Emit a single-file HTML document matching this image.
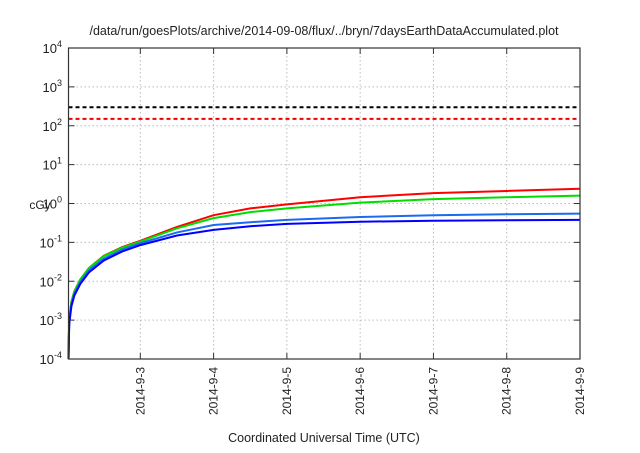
<!DOCTYPE html>
<html><head><meta charset="utf-8"><style>
body{margin:0;background:#fff}
svg{font-family:"Liberation Sans",sans-serif}
</style></head><body>
<svg id="chart" width="640" height="448" viewBox="0 0 640 448" xmlns="http://www.w3.org/2000/svg">
<text x="324" y="35" font-size="12.5" text-anchor="middle" fill="#222">/data/run/goesPlots/archive/2014-09-08/flux/../bryn/7daysEarthDataAccumulated.plot</text>
<text x="40" y="209" font-size="12" text-anchor="middle" fill="#222">cGy</text>
<text x="324" y="442" font-size="12.5" text-anchor="middle" fill="#222">Coordinated Universal Time (UTC)</text>
<g id="grid"></g>
<g id="series"></g>
<g id="axes"></g>
</svg>
<script>
const times=[2.02,2.025,2.03,2.06,2.1,2.18,2.3,2.5,2.75,3,3.5,4,4.5,5,6,7,8,9];
const redVals=[1e-4,4e-4,1e-3,3e-3,5.5e-3,1.1e-2,2.2e-2,4.5e-2,0.075,0.11,0.25,0.5,0.75,0.95,1.45,1.85,2.1,2.4];
const greenVals=[1e-4,4e-4,1e-3,3e-3,5.5e-3,1.1e-2,2.2e-2,4.4e-2,0.073,0.105,0.23,0.42,0.6,0.75,1.05,1.3,1.45,1.6];
const lightBlueVals=[1e-4,3.5e-4,9e-4,2.6e-3,4.8e-3,9.5e-3,1.9e-2,3.8e-2,0.065,0.095,0.18,0.28,0.33,0.38,0.45,0.5,0.53,0.55];
const blueVals=[1e-4,3e-4,8e-4,2.3e-3,4.3e-3,8.5e-3,1.7e-2,3.4e-2,0.058,0.085,0.15,0.21,0.26,0.3,0.34,0.36,0.37,0.38];
const thresholdVals=[300,150];
const xTickDays=[3,4,5,6,7,8,9];
const xTickLabels=["2014-9-3","2014-9-4","2014-9-5","2014-9-6","2014-9-7","2014-9-8","2014-9-9"];
const yTickExps=[-4,-3,-2,-1,0,1,2,3,4];

const L=68.5,R=580,T=48,B=359,X0=2.02,X1=9;
const NS="http://www.w3.org/2000/svg";
function xs(d){return L+(d-X0)/(X1-X0)*(R-L);}
function ys(v){return B-(Math.log10(v)+4)/8*(B-T);}
function mk(tag,attrs,parent){const e=document.createElementNS(NS,tag);for(const k in attrs)e.setAttribute(k,attrs[k]);parent.appendChild(e);return e;}
const grid=document.getElementById('grid'),axes=document.getElementById('axes'),ser=document.getElementById('series');

yTickExps.forEach(e=>{
  const y=ys(Math.pow(10,e));
  if(e>-4&&e<4){const g=mk('line',{x1:L,x2:R,y1:y,y2:y,stroke:'#bbb','stroke-dasharray':'1.5,2.5','stroke-width':1},grid);
  }
  mk('line',{x1:L,x2:L+6,y1:y,y2:y,stroke:'#333'},axes);
  mk('line',{x1:R,x2:R-6,y1:y,y2:y,stroke:'#333'},axes);
  const t=mk('text',{x:62,y:y+5,'font-size':13,'text-anchor':'end',fill:'#222'},axes);
  
  t.textContent='10';
  const s=mk('tspan',{dy:-6,'font-size':9},t);s.textContent=String(e);
});
xTickDays.forEach((d,i)=>{
  const x=xs(d);
  if(d<9){const g=mk('line',{x1:x,x2:x,y1:T,y2:B,stroke:'#bbb','stroke-dasharray':'1.5,2.5','stroke-width':1},grid);
  }
  mk('line',{x1:x,x2:x,y1:B,y2:B-6,stroke:'#333'},axes);
  mk('line',{x1:x,x2:x,y1:T,y2:T+6,stroke:'#333'},axes);
  const t=mk('text',{x:0,y:0,'font-size':12,'text-anchor':'end',fill:'#222',transform:`translate(${x+4},${B+8}) rotate(-90)`},axes);
  
  t.textContent=xTickLabels[i];
});
const frame=mk('rect',{x:L,y:T,width:R-L,height:B-T,fill:'none',stroke:'#333','stroke-width':1.2},axes);


const thrColors=['#000','#e00'];
thresholdVals.forEach((v,i)=>{
  const l=mk('line',{x1:L,x2:R,y1:ys(v),y2:ys(v),stroke:thrColors[i],'stroke-width':2,'stroke-dasharray':'4,3'},ser);
  
});
[[redVals,'#f00','series-red'],[greenVals,'#0d0','series-green'],[lightBlueVals,'#1a6bf0','series-light-blue'],[blueVals,'#00f','series-blue']].forEach(([vals,c,n])=>{
  const p=mk('polyline',{points:times.map((t,i)=>xs(t)+','+ys(vals[i])).join(' '),fill:'none',stroke:c,'stroke-width':2},ser);
  
});
</script>
</body></html>
